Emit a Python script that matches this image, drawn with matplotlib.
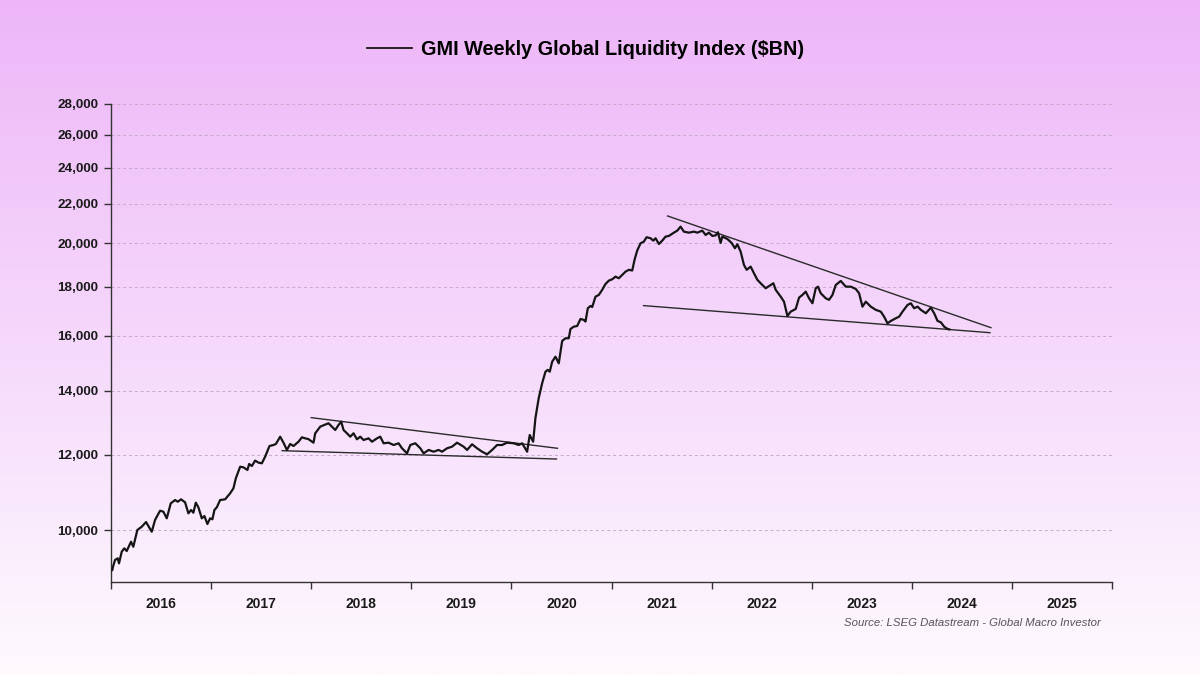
import numpy as np
import matplotlib
matplotlib.use("Agg")
import matplotlib.pyplot as plt
from matplotlib.ticker import FixedLocator, NullLocator, NullFormatter
from matplotlib.lines import Line2D

plt.rcParams['font.family'] = ['Liberation Sans', 'DejaVu Sans']

# weekly index (decimal year, $BN)
weeks = [
    2016.013, 2016.02, 2016.04, 2016.067, 2016.08, 2016.107, 2016.133, 2016.157, 2016.20, 2016.223,
    2016.263, 2016.307, 2016.35, 2016.373, 2016.407, 2016.44, 2016.49, 2016.523, 2016.557, 2016.597,
    2016.64, 2016.667, 2016.70, 2016.74, 2016.773, 2016.80, 2016.823, 2016.847, 2016.873, 2016.907,
    2016.933, 2016.963, 2016.99, 2017.013, 2017.033, 2017.057, 2017.09, 2017.14, 2017.19, 2017.223,
    2017.247, 2017.29, 2017.323, 2017.363, 2017.38, 2017.407, 2017.44, 2017.473, 2017.507, 2017.54,
    2017.583, 2017.623, 2017.647, 2017.69, 2017.723, 2017.757, 2017.79, 2017.823, 2017.873, 2017.907,
    2017.94, 2017.97, 2018.023, 2018.04, 2018.09, 2018.13, 2018.173, 2018.207, 2018.24, 2018.273,
    2018.30, 2018.323, 2018.357, 2018.39, 2018.423, 2018.457, 2018.49, 2018.523, 2018.573, 2018.607,
    2018.657, 2018.69, 2018.723, 2018.773, 2018.823, 2018.873, 2018.907, 2018.957, 2018.99, 2019.04,
    2019.09, 2019.123, 2019.173, 2019.223, 2019.273, 2019.307, 2019.357, 2019.407, 2019.457, 2019.523,
    2019.557, 2019.607, 2019.657, 2019.707, 2019.757, 2019.807, 2019.857, 2019.907, 2019.957, 2020.023,
    2020.073, 2020.107, 2020.157, 2020.183, 2020.217, 2020.24, 2020.273, 2020.307, 2020.34, 2020.363,
    2020.383, 2020.407, 2020.44, 2020.473, 2020.507, 2020.54, 2020.573, 2020.59, 2020.623, 2020.657,
    2020.69, 2020.723, 2020.74, 2020.763, 2020.79, 2020.807, 2020.84, 2020.873, 2020.907, 2020.94,
    2020.973, 2021.007, 2021.04, 2021.073, 2021.107, 2021.14, 2021.173, 2021.207, 2021.23, 2021.257,
    2021.29, 2021.323, 2021.35, 2021.39, 2021.417, 2021.44, 2021.473, 2021.507, 2021.54, 2021.573,
    2021.623, 2021.657, 2021.69, 2021.723, 2021.773, 2021.823, 2021.857, 2021.907, 2021.94, 2021.973,
    2022.007, 2022.04, 2022.063, 2022.09, 2022.107, 2022.157, 2022.2, 2022.233, 2022.257, 2022.29,
    2022.323, 2022.35, 2022.39, 2022.423, 2022.457, 2022.49, 2022.54, 2022.59, 2022.617, 2022.64,
    2022.69, 2022.723, 2022.757, 2022.79, 2022.84, 2022.873, 2022.907, 2022.94, 2022.973, 2023.007,
    2023.04, 2023.063, 2023.09, 2023.14, 2023.173, 2023.207, 2023.24, 2023.29, 2023.34, 2023.39,
    2023.44, 2023.473, 2023.507, 2023.54, 2023.59, 2023.64, 2023.69, 2023.723, 2023.757, 2023.79,
    2023.84, 2023.873, 2023.907, 2023.957, 2023.99, 2024.023, 2024.057, 2024.09, 2024.14, 2024.19,
    2024.223, 2024.257, 2024.29, 2024.323, 2024.357, 2024.373,
]
gli_bn = [
    9079, 9151, 9301, 9339, 9226, 9489, 9567, 9505, 9721, 9604,
    10000, 10080, 10195, 10097, 9959, 10245, 10478, 10454, 10287, 10666,
    10752, 10708, 10770, 10692, 10412, 10496, 10427, 10684, 10564, 10287,
    10344, 10146, 10287, 10262, 10496, 10564, 10752, 10770, 10927, 11060,
    11331, 11653, 11636, 11562, 11730, 11673, 11826, 11769, 11750, 11940,
    12251, 12281, 12311, 12530, 12350, 12135, 12311, 12251, 12379, 12511,
    12480, 12460, 12350, 12633, 12837, 12890, 12943, 12837, 12734, 12890,
    12992, 12734, 12633, 12530, 12633, 12451, 12530, 12430, 12480, 12379,
    12480, 12530, 12332, 12350, 12281, 12332, 12184, 12037, 12281, 12332,
    12184, 12037, 12135, 12084, 12135, 12084, 12184, 12231, 12350, 12231,
    12135, 12302, 12184, 12084, 12008, 12135, 12281, 12281, 12350, 12332,
    12281, 12332, 12084, 12582, 12379, 13109, 13759, 14256, 14661, 14725,
    14661, 15020, 15203, 14962, 15791, 15895, 15895, 16256, 16346, 16374,
    16653, 16617, 16549, 17090, 17186, 17140, 17576, 17650, 17868, 18123,
    18269, 18331, 18447, 18375, 18522, 18671, 18754, 18722, 19213, 19652,
    19997, 20076, 20290, 20240, 20125, 20240, 19962, 20125, 20320, 20353,
    20516, 20616, 20816, 20565, 20516, 20565, 20516, 20616, 20403, 20516,
    20354, 20380, 20536, 20012, 20320, 20206, 20012, 19757, 19949, 19595,
    18977, 18754, 18899, 18598, 18305, 18154, 17936, 18080, 18154, 17868,
    17576, 17365, 16774, 16951, 17061, 17533, 17650, 17790, 17507, 17298,
    17936, 18006, 17721, 17507, 17441, 17648, 18080, 18256, 18006, 18006,
    17906, 17721, 17157, 17365, 17157, 17024, 16951, 16746, 16480, 16573,
    16682, 16746, 16951, 17227, 17298, 17090, 17157, 17024, 16885, 17114,
    16885, 16573, 16520, 16346, 16256, 16240,
]

# hand-drawn trend lines (start, end)
trend_years = [
    [2018.00, 2020.46],   # 2018-19 upper
    [2017.71, 2020.45],   # 2018-19 lower
    [2021.56, 2024.79],   # 2021-24 upper
    [2021.32, 2024.78],   # 2021-24 lower
]
trend_values = [
    [13120, 12184],
    [12113, 11872],
    [21360, 16307],
    [17200, 16110],
]

y_ticks = [10000, 12000, 14000, 16000, 18000, 20000, 22000, 24000, 26000, 28000]
years = list(range(2016, 2026))

fig = plt.figure(figsize=(12, 6.75), dpi=100)

# pink-to-white vertical gradient behind everything
bg = fig.add_axes([0, 0, 1, 1], zorder=0)
top = np.array([237, 182, 248]) / 255
bottom = np.array([254, 250, 254]) / 255
t = np.linspace(0, 1, 256)[:, None]
grad = (top * (1 - t) + bottom * t)[:, None, :]
bg.imshow(grad, aspect='auto', extent=[0, 1, 0, 1])
bg.axis('off')

ax = fig.add_axes([0.0925, 0.1378, 0.8342, 0.7082], zorder=1)
ax.set_facecolor('none')

ax.plot(weeks, gli_bn, color='#151515', lw=1.6, zorder=3)
for xs, ys in zip(trend_years, trend_values):
    ax.plot(xs, ys, color='#2a2a2a', lw=1.0, zorder=2)

ax.set_yscale('log')
ax.set_ylim(8820, 28000)
ax.set_xlim(2016.0, 2026.0)

ax.yaxis.set_major_locator(FixedLocator(y_ticks))
ax.yaxis.set_minor_locator(NullLocator())
ax.yaxis.set_minor_formatter(NullFormatter())
ax.set_yticklabels([f"{v:,}" for v in y_ticks])
ax.grid(axis='y', color='#c9a8cc', linestyle=(0, (3, 3)), lw=0.7)

ax.set_xticks(list(range(2016, 2027)))
ax.set_xticklabels([])
ax.set_xticks([y + 0.5 for y in years], minor=True)
ax.set_xticklabels([str(y) for y in years], minor=True)
ax.tick_params(axis='x', which='major', length=5, width=1, color='#333333', direction='out')
ax.tick_params(axis='x', which='minor', length=0, pad=11, labelsize=10, labelcolor='#1a1a1a')
ax.tick_params(axis='y', length=5, width=1, color='#333333', labelsize=9.7,
               labelcolor='#1a1a1a', pad=4)
for lab in ax.get_xticklabels(minor=True) + ax.get_yticklabels():
    lab.set_fontweight('bold')

for s in ['top', 'right']:
    ax.spines[s].set_visible(False)
for s in ['left', 'bottom']:
    ax.spines[s].set_color('#333333')
    ax.spines[s].set_linewidth(1.0)

handle = Line2D([], [], color='#151515', lw=1.3)
fig.legend([handle], ['GMI Weekly Global Liquidity Index ($BN)'], loc='center',
           bbox_to_anchor=(0.488, 0.927), frameon=False, handlelength=2.25,
           handletextpad=0.45, prop={'weight': 'bold', 'size': 14.3})

fig.text(0.9175, 0.077, 'Source: LSEG Datastream - Global Macro Investor', ha='right',
         va='center', style='italic', fontsize=8.2, color='#555555')

fig.savefig('out.png', dpi=100)
